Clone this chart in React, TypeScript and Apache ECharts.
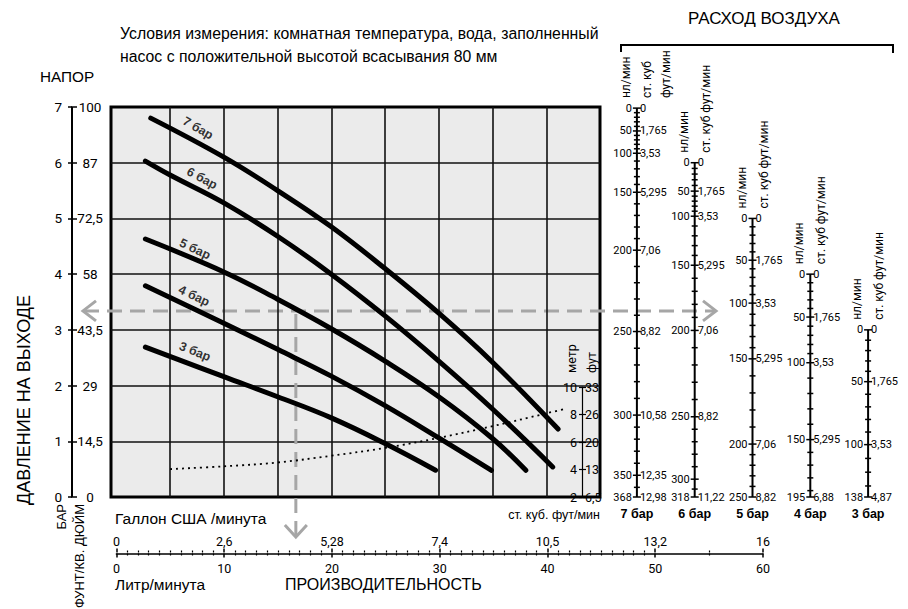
import React, { useEffect, useRef } from "react";
import * as echarts from "echarts";

// ---- pump curves: [flow L/min, outlet pressure bar] ----
const curve7 = [[3.2, 6.8], [10, 6.1], [15, 5.5], [20, 4.85], [25, 4.1], [30, 3.3], [35, 2.42], [41.1, 1.22]];
const curve6 = [[2.7, 6.03], [5, 5.78], [10, 5.28], [15, 4.68], [20, 4.0], [25, 3.25], [30, 2.44], [35, 1.58], [40.6, 0.54]];
const curve5 = [[2.7, 4.63], [10, 4.04], [15, 3.55], [20, 3.02], [25, 2.44], [30, 1.8], [35, 1.05], [38.1, 0.48]];
const curve4 = [[2.7, 3.79], [10, 3.12], [15, 2.65], [20, 2.17], [25, 1.64], [30, 1.06], [34.9, 0.48]];
const curve3 = [[2.7, 2.69], [10, 2.16], [15, 1.8], [20, 1.42], [25, 0.96], [29.7, 0.48]];
// suction lift curve, metres
const npshMetres = [[5, 4.03], [10, 4.23], [15, 4.51], [20, 5.0], [25, 5.57], [30, 6.3], [35, 7.15], [40, 8.08], [41.9, 8.44]];

const curveNames = ["7 бар", "6 бар", "5 бар", "4 бар", "3 бар"];
const curveLabelPos = [[7.59, 6.62], [7.97, 5.72], [7.31, 4.45], [7.22, 3.61], [7.31, 2.61]];
const curveLabelAngle = [-30, -28, -25, -25, -22];

// ---- axes ----
const psiLabels = ["0", "14,5", "29", "43,5", "58", "72,5", "87", "100"];
const feetLabels = { 2: "6,5", 4: "13", 6: "20", 8: "26", 10: "33" } as Record<number, string>;
const gallonLabels = ["0", "2,6", "5,28", "7,4", "10,5", "13,2", "16"];

// example reading
const exampleFlow = 16.7;
const examplePressure = 3.34;

// ---- air consumption scales (нл/мин value -> outlet pressure, bar) ----
const airCats = ["7 бар", "6 бар", "5 бар", "4 бар", "3 бар"];
const air7Nl = [0, 50, 100, 150, 200, 250, 300, 350, 368];
const air7Bar = [6.98, 6.57, 6.17, 5.47, 4.43, 2.97, 1.47, 0.39, 0];
const air7Cfm = ["0", "1,765", "3,53", "5,295", "7,06", "8,82", "10,58", "12,35", "12,98"];
const air6Nl = [0, 50, 100, 150, 200, 250, 300, 318];
const air6Bar = [6.0, 5.49, 5.04, 4.16, 2.99, 1.44, 0.32, 0];
const air6Cfm = ["0", "1,765", "3,53", "5,295", "7,06", "8,82", "", "11,22"];
const air5Nl = [0, 50, 100, 150, 200, 250];
const air5Bar = [5.0, 4.25, 3.48, 2.48, 0.95, 0];
const air5Cfm = ["0", "1,765", "3,53", "5,295", "7,06", "8,82"];
const air4Nl = [0, 50, 100, 150, 195];
const air4Bar = [4.0, 3.23, 2.41, 1.03, 0];
const air4Cfm = ["0", "1,765", "3,53", "5,295", "6,88"];
const air3Nl = [0, 50, 100, 138];
const air3Bar = [3.0, 2.07, 0.94, 0];
const air3Cfm = ["0", "1,765", "3,53", "4,87"];

const NUM_FONT = "Roboto";
const TXT_FONT = "Liberation Sans";

function scalePos(nl: number[], bar: number[], v: number) {
  for (let i = 0; i < nl.length - 1; i++) {
    if (v >= nl[i] && v <= nl[i + 1]) {
      const t = (v - nl[i]) / (nl[i + 1] - nl[i]);
      return bar[i] + t * (bar[i + 1] - bar[i]);
    }
  }
  return bar[bar.length - 1];
}

function buildTicks(nl: number[], bar: number[], cfm: string[]) {
  const maxV = nl[nl.length - 1];
  const vals: number[] = [];
  for (let v = 0; v < maxV; v += 10) vals.push(v);
  vals.push(maxV);
  return vals.map((v) => {
    const k = nl.indexOf(v);
    return {
      p: scalePos(nl, bar, v),
      major: k >= 0,
      left: k >= 0 ? String(v) : "",
      right: k >= 0 ? cfm[k] : "",
    };
  });
}

function txt(text: string, x: number, y: number, size: number, align: string, valign: string, extra: any = {}) {
  const { fontFamily, fontWeight, lineHeight, ...rest } = extra;
  return {
    type: "text",
    x,
    y,
    ...rest,
    style: {
      text,
      fill: "#000",
      fontSize: size,
      fontFamily: fontFamily || NUM_FONT,
      fontWeight: fontWeight || "normal",
      lineHeight,
      textAlign: align,
      textVerticalAlign: valign,
      align,
      verticalAlign: valign,
    },
  };
}

function makeAirSeries(cat: number, nl: number[], bar: number[], cfm: string[], cfmHeader: string) {
  const ticks = buildTicks(nl, bar, cfm);
  const twoLine = cfmHeader.indexOf("\n") >= 0;
  return {
    type: "custom",
    xAxisIndex: 7,
    yAxisIndex: 7,
    z: 6,
    silent: true,
    data: ticks.map((t) => [cat, t.p]),
    renderItem: (params: any, api: any) => {
      const i = params.dataIndex;
      const t = ticks[i];
      const pt = api.coord([cat, t.p]);
      const x = pt[0];
      const y = pt[1];
      const half = t.major ? 4 : 3;
      const ch: any[] = [
        { type: "line", shape: { x1: x - half, y1: y, x2: x + half, y2: y }, style: { stroke: "#000", lineWidth: 1.5 } },
      ];
      if (t.major) {
        ch.push(txt(t.left, x - 5, y, 11, "right", "middle"));
        if (t.right) ch.push(txt(t.right, x + 3, y, 11, "left", "middle"));
      }
      if (i === 0) {
        const bot = api.coord([cat, ticks[ticks.length - 1].p]);
        ch.push({ type: "line", shape: { x1: x, y1: y, x2: x, y2: bot[1] }, style: { stroke: "#000", lineWidth: 2 } });
        ch.push(txt("нл/мин", x - 11, y - 10, 12, "left", "middle", { rotation: Math.PI / 2 }));
        ch.push(txt(cfmHeader, x + (twoLine ? 19.5 : 11), y - 10, 12, "left", "middle", { rotation: Math.PI / 2, lineHeight: 19 }));
      }
      return { type: "group", children: ch };
    },
  };
}

function minorList() {
  const out: number[] = [];
  for (let v = 1; v < 50; v++) if (v % 10 !== 0) out.push(v);
  out.push(55);
  return out;
}

export default function App() {
  const ref = useRef<HTMLDivElement>(null);
  useEffect(() => {
    if (!ref.current) return;
    const chart = echarts.init(ref.current, undefined, { renderer: "svg" });
    const curves = [curve7, curve6, curve5, curve4, curve3];
    const gridLineStyle = { color: "#111", width: 1.6 };
    const option: any = {
      animation: false,
      backgroundColor: "#fff",
      textStyle: { fontFamily: NUM_FONT },
      grid: [
        { left: 111, top: 107, width: 489, height: 390, show: true, backgroundColor: "#ebebeb", borderColor: "#000", borderWidth: 3 },
        { left: 72, top: 107, width: 1, height: 390 },
        { left: 582, top: 387, width: 1, height: 110 },
        { left: 116.4, top: 552.5, width: 646.6, height: 1 },
        { left: 608, top: 107, width: 289, height: 390 },
      ],
      xAxis: [
        { type: "value", gridIndex: 0, min: -0.5, max: 45, show: false },
        { type: "value", gridIndex: 1, show: false },
        { type: "value", gridIndex: 2, show: false },
        {
          type: "value", gridIndex: 3, position: "bottom", min: 0, max: 60, interval: 10,
          axisLine: { show: true, lineStyle: { color: "#000", width: 1.5 } },
          axisTick: { show: true, length: 4, lineStyle: { color: "#000", width: 1.5 } },
          axisLabel: { color: "#000", fontSize: 12.5, margin: 8, fontFamily: NUM_FONT },
          splitLine: { show: false },
        },
        {
          type: "value", gridIndex: 3, position: "top", min: 0, max: 60, interval: 10,
          axisLine: { show: false },
          axisTick: { show: true, length: 4, lineStyle: { color: "#000", width: 1.5 } },
          axisLabel: { color: "#000", fontSize: 12.5, margin: 5, fontFamily: NUM_FONT, formatter: (v: number) => gallonLabels[Math.round(v / 10)] },
          splitLine: { show: false },
        },
        {
          type: "value", gridIndex: 3, position: "bottom", min: 0, max: 60,
          axisLine: { show: false }, axisLabel: { show: false }, splitLine: { show: false },
          axisTick: { show: true, length: 2, customValues: minorList(), lineStyle: { color: "#000", width: 1.2 } },
        },
        {
          type: "value", gridIndex: 3, position: "top", min: 0, max: 60,
          axisLine: { show: false }, axisLabel: { show: false }, splitLine: { show: false },
          axisTick: { show: true, length: 2, customValues: minorList(), lineStyle: { color: "#000", width: 1.2 } },
        },
        {
          type: "category", gridIndex: 4, data: airCats, boundaryGap: true,
          axisLine: { show: false }, axisTick: { show: false },
          axisLabel: { color: "#000", fontSize: 12.5, fontWeight: "bold", fontFamily: TXT_FONT, margin: 10 },
        },
      ],
      yAxis: [
        {
          type: "value", gridIndex: 0, min: 0, max: 7, interval: 1,
          axisLine: { show: false }, axisTick: { show: false }, axisLabel: { show: false },
          splitLine: { show: true, showMinLine: false, showMaxLine: false, lineStyle: gridLineStyle },
        },
        { type: "value", gridIndex: 0, min: 2, max: 30.36, show: false, splitLine: { show: false } },
        {
          type: "value", gridIndex: 1, position: "left", min: 0, max: 7, interval: 1,
          axisLine: { show: true, lineStyle: { color: "#000", width: 2 } },
          axisTick: { show: true, length: 4, lineStyle: { color: "#000", width: 1.5 } },
          axisLabel: { color: "#000", fontSize: 13.5, margin: 10, fontFamily: NUM_FONT },
          splitLine: { show: false },
        },
        {
          type: "value", gridIndex: 1, position: "right", min: 0, max: 7, interval: 1,
          axisLine: { show: false },
          axisTick: { show: true, length: 4, lineStyle: { color: "#000", width: 1.5 } },
          axisLabel: { color: "#000", fontSize: 13.5, margin: 17, align: "center", fontFamily: NUM_FONT, formatter: (v: number) => psiLabels[v] },
          splitLine: { show: false },
        },
        {
          type: "value", gridIndex: 2, position: "left", min: 2, max: 10, interval: 2,
          axisLine: { show: true, lineStyle: { color: "#000", width: 1.2 } },
          axisTick: { show: true, length: 3, lineStyle: { color: "#000", width: 1.2 } },
          axisLabel: { color: "#000", fontSize: 12.5, margin: 5, fontFamily: NUM_FONT },
          splitLine: { show: false },
        },
        {
          type: "value", gridIndex: 2, position: "right", min: 2, max: 10, interval: 2,
          axisLine: { show: false },
          axisTick: { show: true, length: 3, lineStyle: { color: "#000", width: 1.2 } },
          axisLabel: { color: "#000", fontSize: 12.5, margin: 2, fontFamily: NUM_FONT, formatter: (v: number) => feetLabels[v] },
          splitLine: { show: false },
        },
        { type: "value", gridIndex: 3, min: 0, max: 1, show: false },
        { type: "value", gridIndex: 4, min: 0, max: 7, show: false },
      ],
      series: [
        {
          type: "line", xAxisIndex: 0, yAxisIndex: 0, data: [], z: 1, silent: true,
          markLine: {
            silent: true, symbol: ["none", "none"], label: { show: false },
            lineStyle: { color: "#111", width: 1.6, type: "solid" },
            data: [5, 10, 15, 20, 25, 30, 35, 40].map((v) => ({ xAxis: v })),
          },
        },
        ...curves.map((c) => ({
          type: "line", xAxisIndex: 0, yAxisIndex: 0, data: c, smooth: 0.4, symbol: "none", z: 8,
          lineStyle: { color: "#000", width: 5, cap: "round", join: "round" },
        })),
        {
          type: "line", xAxisIndex: 0, yAxisIndex: 1, data: npshMetres, smooth: 0.4, symbol: "none", z: 7,
          lineStyle: { color: "#000", width: 1.8, type: [2, 4] },
        },
        {
          type: "scatter", xAxisIndex: 0, yAxisIndex: 0, z: 9, symbolSize: 1,
          itemStyle: { color: "transparent" },
          data: curveLabelPos.map((p, i) => ({
            value: p,
            label: {
              show: true, position: "inside", formatter: curveNames[i], rotate: curveLabelAngle[i],
              color: "#000", fontSize: 12.5, fontWeight: "bold", fontFamily: TXT_FONT,
            },
          })),
        },
        makeAirSeries(0, air7Nl, air7Bar, air7Cfm, "ст. куб\nфут/мин"),
        makeAirSeries(1, air6Nl, air6Bar, air6Cfm, "ст. куб фут/мин"),
        makeAirSeries(2, air5Nl, air5Bar, air5Cfm, "ст. куб фут/мин"),
        makeAirSeries(3, air4Nl, air4Bar, air4Cfm, "ст. куб фут/мин"),
        makeAirSeries(4, air3Nl, air3Bar, air3Cfm, "ст. куб фут/мин"),
      ],
    };
    chart.setOption(option);

    const ep = chart.convertToPixel({ xAxisIndex: 0, yAxisIndex: 0 }, [exampleFlow, examplePressure]) as number[];
    const ex = ep[0];
    const ey = ep[1];
    const gray = "#a6a6a6";
    const dash = { stroke: gray, lineWidth: 3, lineDash: [15, 8], fill: "none" };
    const arrowStyle = { stroke: gray, lineWidth: 3, fill: "none" };
    const graphic: any[] = [
      { type: "line", z: 3, shape: { x1: 84, y1: ey, x2: 714, y2: ey }, style: dash },
      { type: "polyline", z: 3, shape: { points: [[96, ey - 10], [83, ey], [96, ey + 10]] }, style: arrowStyle },
      { type: "polyline", z: 3, shape: { points: [[703, ey - 10], [716, ey], [703, ey + 10]] }, style: arrowStyle },
      { type: "line", z: 3, shape: { x1: ex, y1: ey + 3, x2: ex, y2: 535 }, style: dash },
      { type: "polyline", z: 3, shape: { points: [[ex - 11, 525], [ex, 537], [ex + 11, 525]] }, style: arrowStyle },
      // texts
      txt("Условия измерения: комнатная температура, вода, заполненный", 120, 33, 15.8, "left", "middle", { fontFamily: TXT_FONT }),
      txt("насос с положительной высотой всасывания 80 мм", 120, 56, 15.8, "left", "middle", { fontFamily: TXT_FONT }),
      txt("НАПОР", 40, 76, 15.3, "left", "middle", { fontFamily: TXT_FONT }),
      txt("ДАВЛЕНИЕ НА ВЫХОДЕ", 24, 400, 18, "center", "middle", { fontFamily: TXT_FONT, rotation: Math.PI / 2 }),
      txt("БАР", 61, 504, 13, "right", "middle", { fontFamily: TXT_FONT, rotation: Math.PI / 2 }),
      txt("ФУНТ/КВ. ДЮЙМ", 79, 504, 13, "right", "middle", { fontFamily: TXT_FONT, rotation: Math.PI / 2 }),
      txt("метр", 571, 373, 12.5, "left", "middle", { fontFamily: NUM_FONT, rotation: Math.PI / 2 }),
      txt("фут", 591, 373, 12.5, "left", "middle", { fontFamily: NUM_FONT, rotation: Math.PI / 2 }),
      txt("Галлон США /минута", 115, 518, 15.5, "left", "middle", { fontFamily: TXT_FONT }),
      txt("Литр/минута", 115, 584, 15.5, "left", "middle", { fontFamily: TXT_FONT }),
      txt("ПРОИЗВОДИТЕЛЬНОСТЬ", 285, 584, 16, "left", "middle", { fontFamily: TXT_FONT }),
      txt("РАСХОД ВОЗДУХА", 764, 18, 17, "center", "middle", { fontFamily: TXT_FONT }),
      txt("ст. куб. фут/мин", 600, 515, 12.5, "right", "middle", { fontFamily: TXT_FONT }),
      { type: "polyline", z: 3, shape: { points: [[621, 52], [621, 45], [893, 45], [893, 53]] }, style: { stroke: "#000", lineWidth: 2, fill: "none" } },
    ];
    chart.setOption({ graphic });
    return () => chart.dispose();
  }, []);
  return <div ref={ref} style={{ position: "fixed", left: 0, top: 0, width: 908, height: 609 }} />;
}
